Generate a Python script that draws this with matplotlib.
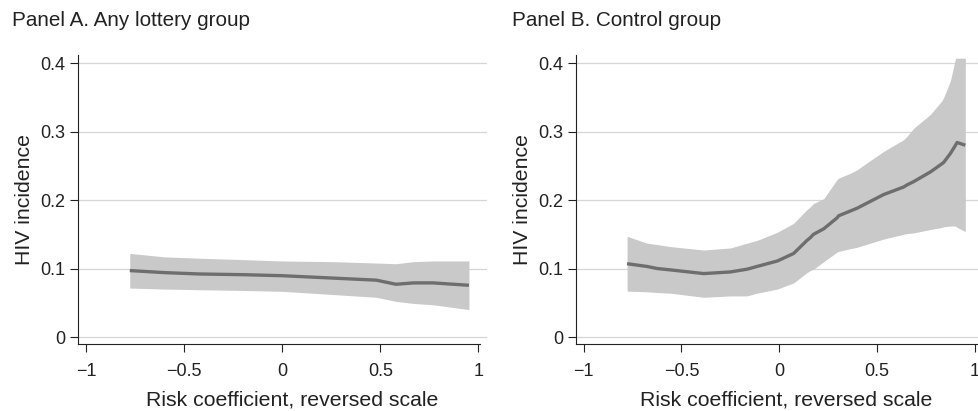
import matplotlib
matplotlib.use("Agg")
import matplotlib.pyplot as plt
import numpy as np

plt.rcParams['font.family'] = ['Liberation Sans', 'DejaVu Sans']

# Panel A: any lottery group
a_x = [-0.777, -0.6, -0.42, -0.2, 0.0, 0.26, 0.48, 0.58, 0.67, 0.77, 0.952]
a_mid = [0.097, 0.094, 0.092, 0.091, 0.0895, 0.086, 0.083, 0.077, 0.079, 0.079, 0.0755]
a_hi = [0.122, 0.117, 0.115, 0.113, 0.111, 0.110, 0.108, 0.107, 0.110, 0.111, 0.111]
a_lo = [0.0715, 0.070, 0.069, 0.068, 0.0667, 0.062, 0.058, 0.052, 0.049, 0.047, 0.040]

# Panel B: control group
b_x = [-0.778, -0.676, -0.625, -0.557, -0.387, -0.25, -0.165, -0.114, -0.01, 0.073, 0.141,
       0.158, 0.175, 0.227, 0.295, 0.303, 0.363, 0.397, 0.431, 0.533, 0.635, 0.652, 0.687,
       0.772, 0.831, 0.84, 0.874, 0.9, 0.908, 0.95]
b_mid = [0.107, 0.103, 0.100, 0.098, 0.0926, 0.095, 0.099, 0.103, 0.111, 0.122, 0.141,
         0.145, 0.150, 0.158, 0.174, 0.177, 0.184, 0.188, 0.193, 0.208, 0.219, 0.222, 0.227,
         0.241, 0.253, 0.255, 0.268, 0.280, 0.284, 0.280]
b_hi = [0.147, 0.137, 0.135, 0.132, 0.127, 0.130, 0.137, 0.141, 0.153, 0.166, 0.186,
        0.190, 0.195, 0.202, 0.230, 0.232, 0.239, 0.244, 0.251, 0.271, 0.288, 0.293, 0.305,
        0.325, 0.345, 0.350, 0.374, 0.407, 0.407, 0.407]
b_lo = [0.067, 0.066, 0.065, 0.064, 0.058, 0.060, 0.060, 0.064, 0.070, 0.079, 0.094,
        0.097, 0.099, 0.110, 0.124, 0.125, 0.129, 0.131, 0.134, 0.143, 0.150, 0.151, 0.152,
        0.157, 0.160, 0.161, 0.162, 0.162, 0.160, 0.154]

titles = ['Panel A. Any lottery group', 'Panel B. Control group']
xticks = [-1, -0.5, 0, 0.5, 1]
xtick_labels = ['\u22121', '\u22120.5', '0', '0.5', '1']
yticks = [0, 0.1, 0.2, 0.3, 0.4]
ytick_labels = ['0', '0.1', '0.2', '0.3', '0.4']

W, H = 979, 411
fig = plt.figure(figsize=(W / 100, H / 100), dpi=100)

def px_axes(l, t, r, b):
    return fig.add_axes([l / W, 1 - b / H, (r - l) / W, (b - t) / H])

# axes, xlim, data, title x (px), x-label centre x (px)
panels = [
    (px_axes(78, 55, 487, 344), (-1.041, 1.044), a_x, a_mid, a_hi, a_lo, 12, 78, 487, 292),
    (px_axes(576, 55, 979, 344), (-1.039, 1.02), b_x, b_mid, b_hi, b_lo, 512, 576, 979, 786),
]

for i, (ax, xl, x, mid, hi, lo, tx, l, r, lx) in enumerate(panels):
    ax.fill_between(x, lo, hi, color='#c9c9c9', lw=0, zorder=2)
    ax.plot(x, mid, color='#6e6e6e', lw=2.4, zorder=3, solid_capstyle='butt')
    ax.set_xlim(*xl)
    ax.set_ylim(-0.0102, 0.4117)
    ax.set_xticks(xticks)
    ax.set_xticklabels(xtick_labels)
    ax.set_yticks(yticks)
    ax.set_yticklabels(ytick_labels)
    ax.grid(axis='y', color='#d6d6d6', lw=0.9, zorder=1)
    ax.set_axisbelow(True)
    for s in ['top', 'right']:
        ax.spines[s].set_visible(False)
    for s in ['left', 'bottom']:
        ax.spines[s].set_linewidth(0.8)
        ax.spines[s].set_color('#222222')
    ax.spines['bottom'].set_bounds(xl[0], 1.01)
    ax.tick_params(direction='out', length=6, width=0.8, color='#222222',
                   labelsize=13, labelcolor='#222222', pad=3)
    ax.tick_params(axis='x', pad=8)
    ax.set_xlabel('Risk coefficient, reversed scale', fontsize=15.3, color='#222222')
    ax.xaxis.set_label_coords((lx - l) / (r - l), -(400 - 344) / 289, transform=ax.transAxes)
    ax.xaxis.label.set_va('center')
    ax.set_ylabel('HIV incidence', fontsize=15.3, color='#222222', labelpad=5)
    fig.text(tx / W, 1 - 20 / H, titles[i], fontsize=14.9, color='#222222',
             ha='left', va='center')

fig.savefig('out.png', dpi=100)
